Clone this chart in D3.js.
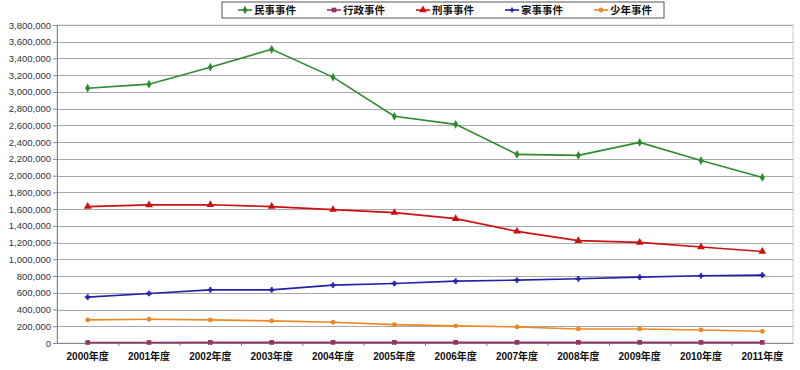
<!DOCTYPE html>
<html>
<head>
<meta charset="utf-8">
<script src="https://cdn.jsdelivr.net/npm/d3@7"></script>
<style>
  body { margin: 0; background: #fff; }
  text { font-family: Arial, "Liberation Sans", "Noto Sans CJK JP", sans-serif; }
</style>
</head>
<body>
<div id="plot"></div>
<script>
// categories (fiscal years)
const years = ["2000年度", "2001年度", "2002年度", "2003年度", "2004年度", "2005年度",
               "2006年度", "2007年度", "2008年度", "2009年度", "2010年度", "2011年度"];

// series values
const minji   = [3045000, 3093000, 3296000, 3510000, 3177000, 2709000, 2613000, 2254000, 2242000, 2397000, 2180000, 1978000];
const gyosei  = [6000, 6500, 7000, 7000, 7500, 7500, 7500, 7500, 7500, 7500, 7000, 7000];
const keiji   = [1630000, 1650000, 1652000, 1630000, 1594000, 1558000, 1486000, 1334000, 1223000, 1202000, 1147000, 1094000];
const kaji    = [548000, 591000, 635000, 635000, 691000, 711000, 739000, 751000, 767000, 787000, 803000, 811000];
const shonen  = [276000, 284000, 276000, 264000, 248000, 219000, 205000, 192000, 168000, 168000, 156000, 140000];

const seriesNames = ["民事事件", "行政事件", "刑事事件", "家事事件", "少年事件"];
const yTicks = d3.range(0, 3800001, 200000);

const series = [
  { name: seriesNames[0], values: minji,  color: "#2e8b2e", symbol: d3.symbolDiamond, size: 22 },
  { name: seriesNames[1], values: gyosei, color: "#993366", symbol: d3.symbolSquare,  size: 22 },
  { name: seriesNames[2], values: keiji,  color: "#cc1111", symbol: d3.symbolTriangle, size: 26 },
  { name: seriesNames[3], values: kaji,   color: "#2222aa", symbol: d3.symbolCross,   size: 14 },
  { name: seriesNames[4], values: shonen, color: "#ee8822", symbol: d3.symbolCircle,  size: 18 }
];

const W = 800, H = 370;
const margin = { top: 25, right: 7, bottom: 27, left: 57 };
const width = W - margin.left - margin.right;
const height = H - margin.top - margin.bottom;

const x = d3.scaleBand().domain(years).range([0, width]);
const y = d3.scaleLinear().domain([0, 3800000]).range([height, 0]);

const svg = d3.select("#plot").append("svg")
    .attr("width", W)
    .attr("height", H);

const g = svg.append("g")
    .attr("transform", `translate(${margin.left},${margin.top})`);

// plot border
g.append("rect")
    .attr("width", width)
    .attr("height", height)
    .attr("fill", "none")
    .attr("stroke", "#cccccc");

// gridlines
g.append("g")
  .selectAll("line")
  .data(yTicks.slice(1))
  .join("line")
    .attr("x1", 0)
    .attr("x2", width)
    .attr("y1", d => Math.round(y(d)) + 0.5)
    .attr("y2", d => Math.round(y(d)) + 0.5)
    .attr("stroke", "#a8a8a8");

// y axis
const yAxis = g.append("g")
    .call(d3.axisLeft(y).tickValues(yTicks).tickSize(4).tickFormat(d3.format(",")));
yAxis.select(".domain").attr("stroke", "#888");
yAxis.selectAll(".tick line").attr("stroke", "#888");
yAxis.selectAll("text").attr("fill", "#333").attr("font-size", 9.5).attr("x", -6);

// x axis
const xAxis = g.append("g")
    .attr("transform", `translate(0,${height})`)
    .call(d3.axisBottom(x).tickSize(0).tickPadding(10));
xAxis.select(".domain").attr("stroke", "#888");
xAxis.selectAll("text").attr("fill", "#111").attr("font-size", 10).attr("font-weight", "bold");
// small tick marks between categories
g.append("g")
  .selectAll("line")
  .data(years.slice(1))
  .join("line")
    .attr("x1", d => x(d) + 0.5)
    .attr("x2", d => x(d) + 0.5)
    .attr("y1", height)
    .attr("y2", height + 3)
    .attr("stroke", "#888");

const line = d3.line()
    .x((d, i) => x(years[i]) + x.bandwidth() / 2)
    .y(d => y(d));

series.forEach(s => {
  g.append("path")
    .datum(s.values)
    .attr("fill", "none")
    .attr("stroke", s.color)
    .attr("stroke-width", 1.6)
    .attr("d", line);
  g.append("g")
    .selectAll("path")
    .data(s.values)
    .join("path")
      .attr("transform", (d, i) => `translate(${x(years[i]) + x.bandwidth() / 2},${y(d)})`)
      .attr("d", d3.symbol(s.symbol, s.size))
      .attr("fill", s.color)
      .attr("stroke", s.color)
      .attr("stroke-width", s.symbol === d3.symbolCross ? 0.5 : 0);
});

// legend
const legend = svg.append("g").attr("transform", "translate(222,2)");
legend.append("rect")
    .attr("width", 442)
    .attr("height", 16)
    .attr("fill", "#fff")
    .attr("stroke", "#555");
const item = legend.selectAll("g.item")
  .data(series)
  .join("g")
    .attr("class", "item")
    .attr("transform", (d, i) => `translate(${16 + i * 89},8)`);
item.append("line")
    .attr("x1", 0).attr("x2", 14)
    .attr("stroke", d => d.color)
    .attr("stroke-width", 1.6);
item.append("path")
    .attr("transform", "translate(7,0)")
    .attr("d", d => d3.symbol(d.symbol, d.size)())
    .attr("fill", d => d.color);
item.append("text")
    .attr("x", 16)
    .attr("dy", "0.35em")
    .attr("font-size", 10.5)
    .attr("font-weight", "bold")
    .attr("fill", "#111")
    .text(d => d.name);
</script>
</body>
</html>
